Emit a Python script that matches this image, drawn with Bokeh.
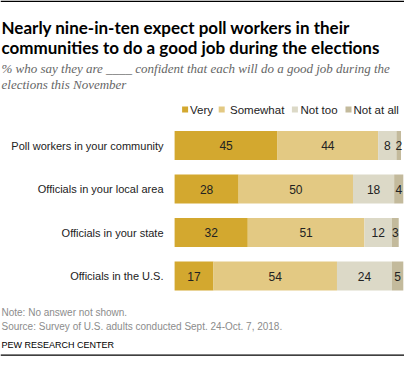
from bokeh.plotting import figure
from bokeh.models import Range1d, Label, ColumnDataSource
from bokeh.embed import file_html
from bokeh.resources import INLINE
from bokeh.core.properties import value

# ---------------- data ----------------
categories = ["Poll workers in your community", "Officials in your local area",
              "Officials in your state", "Officials in the U.S."]
very = [45, 28, 32, 17]
somewhat = [44, 50, 51, 54]
not_too = [8, 18, 12, 24]
not_at_all = [2, 4, 3, 5]
series_labels = ["Very", "Somewhat", "Not too", "Not at all"]
colors = ["#D3A82F", "#E3C983", "#DCD9C7", "#C3BA9C"]

title_lines = ["Nearly nine-in-ten expect poll workers in their",
               "communities to do a good job during the elections"]
subtitle_lines = ["% who say they are ____ confident that each will do a good job during the",
                  "elections this November"]
note_text = "Note: No answer not shown."
source_text = "Source: Survey of U.S. adults conducted Sept. 24-Oct. 7, 2018."
credit_text = "PEW RESEARCH CENTER"

# ---------------- layout ----------------
W, H = 404, 356
PX = 2.287      # pixels per percentage point
X0 = 174.1      # pixel position of value 0
ROW = 43.5      # pixels between rows
ROW0 = 145.0    # pixel centre of first row

x_start = -X0 / PX
x_end = (W - X0) / PX
y_top = -ROW0 / ROW
y_bot = y_top + H / ROW


def X(px):
    return x_start + px / PX


def Y(py):
    return y_top + py / ROW


SANS = "Liberation Sans"

p = figure(width=W, height=H, x_range=Range1d(x_start, x_end),
           y_range=Range1d(y_bot, y_top), x_axis_location=None,
           y_axis_location=None, toolbar_location=None, output_backend="svg",
           min_border=0, outline_line_color=None)
p.xgrid.visible = False
p.ygrid.visible = False
p.background_fill_color = "white"
p.border_fill_color = "white"

ys = list(range(len(categories)))
keys = ["very", "somewhat", "not_too", "not_at_all"]
src = ColumnDataSource(dict(y=ys, very=very, somewhat=somewhat,
                            not_too=not_too, not_at_all=not_at_all))
p.hbar_stack(keys, y="y", height=0.667, color=colors, line_color=None, source=src)

# value labels
lx, ly, lt = [], [], []
for i in range(len(categories)):
    start = 0
    for arr in (very, somewhat, not_too, not_at_all):
        v = arr[i]
        lx.append(start + v / 2)
        ly.append(ys[i])
        lt.append(str(v))
        start += v
p.text(x="x", y="y", text="t", source=ColumnDataSource(dict(x=lx, y=ly, t=lt)),
       text_align="center", text_baseline="middle", text_font=value(SANS),
       text_font_size="12px", text_color="#222222")

# category labels
p.text(x="x", y="y", text="t",
       source=ColumnDataSource(dict(x=[X(163)] * len(categories), y=ys, t=categories)),
       text_align="right", text_baseline="middle", text_font=value(SANS),
       text_font_size="11px", text_color="#222222")

# legend
sq_px = [184.6, 221.2, 294.4, 348.0]
tx_px = [189.5, 229.5, 300.0, 353.0]
p.scatter(x=[X(v) for v in sq_px], y=[Y(109)] * 4, marker="square", size=6,
          color=colors, line_color=None)
p.text(x="x", y="y", text="t",
       source=ColumnDataSource(dict(x=[X(v) for v in tx_px], y=[Y(109)] * 4, t=series_labels)),
       text_align="left", text_baseline="middle", text_font=value(SANS),
       text_font_size="11.5px", text_color="#222222")

# titles
for i, line in enumerate(title_lines):
    p.add_layout(Label(x=X(1), y=Y(27.3 + 20 * i), text=line, text_font="Lato",
                       text_font_style="bold", text_font_size="17px",
                       text_color="#000000", text_baseline="alphabetic"))
for i, line in enumerate(subtitle_lines):
    p.add_layout(Label(x=X(1), y=Y(68 + 15.5 * i), text=line, text_font="Liberation Serif",
                       text_font_style="italic", text_font_size="13px",
                       text_color="#666666", text_baseline="alphabetic"))

# footer
p.add_layout(Label(x=X(1), y=Y(312), text=note_text, text_font=SANS,
                   text_font_size="10px", text_color="#8c8c8c", text_baseline="alphabetic"))
p.add_layout(Label(x=X(1), y=Y(325.5), text=source_text, text_font=SANS,
                   text_font_size="10px", text_color="#8c8c8c", text_baseline="alphabetic"))
p.add_layout(Label(x=X(1), y=Y(344), text=credit_text, text_font=SANS,
                   text_font_size="9px", text_color="#000000", text_baseline="alphabetic"))

# rules
p.segment(x0=[X(0), X(0)], x1=[X(W), X(W)], y0=[Y(0.8), Y(354.6)], y1=[Y(0.8), Y(354.6)],
          line_color="#000000", line_width=[1.6, 1.2])

open("out.html", "w").write(file_html(p, INLINE))
